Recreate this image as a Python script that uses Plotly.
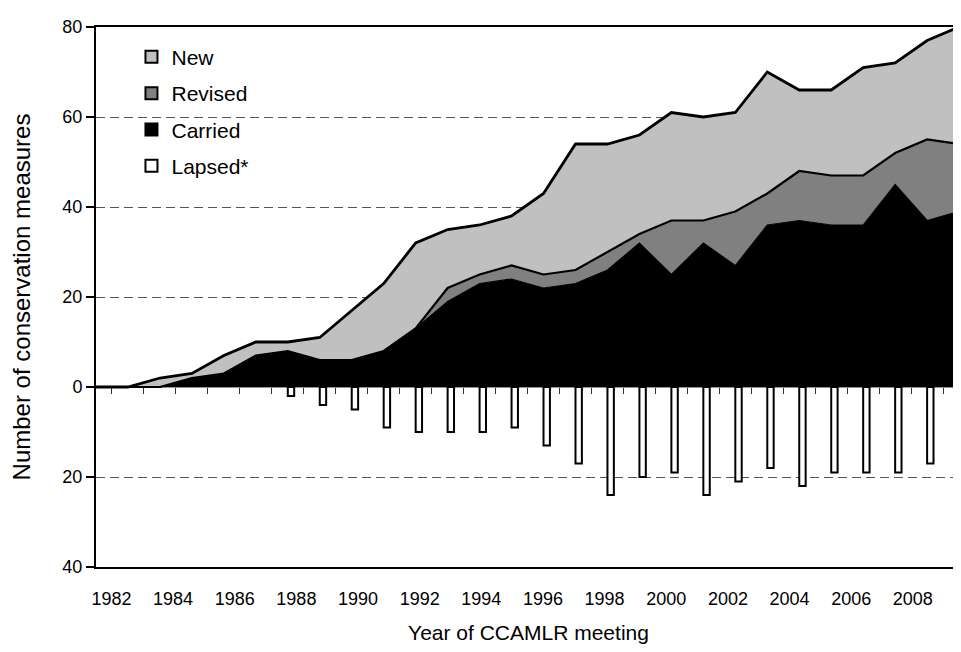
import plotly.graph_objects as go

years = list(range(1982, 2010))
carried = [0, 0, 0, 2, 3, 7, 8, 6, 6, 8, 13, 19, 23, 24, 22, 23, 26, 32, 25, 32, 27, 36, 37, 36, 36, 45, 37, 39]
revised = [0, 0, 0, 0, 0, 0, 0, 0, 0, 0, 0, 3, 2, 3, 3, 3, 4, 2, 12, 5, 12, 7, 11, 11, 11, 7, 18, 15]
new = [0, 0, 2, 1, 4, 3, 2, 5, 11, 15, 19, 13, 11, 11, 18, 28, 24, 22, 24, 23, 22, 27, 18, 19, 24, 20, 22, 26]
lapsed = [0, 0, 0, 0, 0, 0, 2, 4, 5, 9, 10, 10, 10, 9, 13, 17, 24, 20, 19, 24, 21, 18, 22, 19, 19, 19, 17, 23]

y_tickvals = [-40, -20, 0, 20, 40, 60, 80]
y_ticktext = ["40", "20", "0", "20", "40", "60", "80"]
label_years = years[::2]
x_ticktext = [str(y) for y in label_years]

FONT = "Arial, 'Liberation Sans', sans-serif"

total_last = carried[-1] + revised[-1] + new[-1]

# category axis: labels sit at the centres of equal category slots spanning the plot width
n = len(years)
span = years[-1] - years[0]
x_tickvals = [years[0] + (years.index(y) + 0.5) * span / n for y in label_years]

fig = go.Figure()

# Lapsed bars (downwards)
fig.add_trace(go.Bar(
    x=years, y=[-v if v else None for v in lapsed],
    width=0.2, offset=0.0,
    marker=dict(color="white", line=dict(color="black", width=2)),
    name="Lapsed*", legendrank=4, legendgroup="g4", showlegend=True,
))

# Stacked areas
fig.add_trace(go.Scatter(
    x=years, y=carried, stackgroup="s", mode="lines",
    line=dict(color="black", width=1.2), fillcolor="#000000",
    showlegend=False, name="Carried",
))
fig.add_trace(go.Scatter(
    x=years, y=revised, stackgroup="s", mode="lines",
    line=dict(color="black", width=2.2), fillcolor="#808080",
    showlegend=False, name="Revised",
))
fig.add_trace(go.Scatter(
    x=years, y=new, stackgroup="s", mode="lines",
    line=dict(color="black", width=2.8), fillcolor="#C0C0C0",
    showlegend=False, name="New",
))
# right-hand edge of the area outline
fig.add_trace(go.Scatter(
    x=[years[-1], years[-1]], y=[0, total_last], mode="lines",
    line=dict(color="black", width=2.5), showlegend=False, hoverinfo="skip",
))

# Legend-only entries with square swatches
for nm, col, rk in [("New", "#C0C0C0", 1), ("Revised", "#808080", 2), ("Carried", "#000000", 3)]:
    fig.add_trace(go.Bar(
        x=[None], y=[None], name=nm,
        marker=dict(color=col, line=dict(color="black", width=2)),
        legendrank=rk, legendgroup="g%d" % rk, showlegend=True,
    ))

# zero-line axis with tick marks between categories
fig.add_trace(go.Scatter(x=[years[0]], y=[None], xaxis="x2", showlegend=False, hoverinfo="skip"))

mid_ticks = [y + 0.5 for y in years[:-1]]
x_range = [years[0], years[-1] + 0.06]

# the page body adds an 8px margin, so the figure is sized to fit inside it
fig.update_layout(
    width=953, height=636,
    margin=dict(l=88, r=0, t=19, b=77, autoexpand=False),
    paper_bgcolor="white", plot_bgcolor="white",
    font=dict(family=FONT, size=18, color="black"),
    barmode="overlay",
    showlegend=True,
    legend=dict(
        x=0.041, y=0.982, xanchor="left", yanchor="top",
        bgcolor="rgba(0,0,0,0)", borderwidth=0,
        font=dict(family=FONT, size=21, color="black"),
        traceorder="grouped", tracegroupgap=6, itemwidth=30,
    ),
    xaxis=dict(
        range=x_range, automargin=False,
        tickvals=x_tickvals, ticktext=x_ticktext,
        ticks="", showgrid=False, zeroline=False,
        showline=True, linecolor="black", linewidth=2, mirror=True,
        ticklabelstandoff=14,
        title=dict(text="Year of CCAMLR meeting", standoff=19, font=dict(size=21)),
        tickfont=dict(size=18),
    ),
    xaxis2=dict(
        overlaying="x", matches="x", anchor="free", position=1/3,
        range=x_range,
        tickvals=mid_ticks, ticks="outside", ticklen=6, tickcolor="#333333", tickwidth=1,
        showticklabels=False, showline=True, linecolor="#909090", linewidth=1.5,
        showgrid=False, zeroline=False, layer="below traces",
    ),
    yaxis=dict(
        range=[-40, 80], automargin=False,
        tickvals=y_tickvals, ticktext=y_ticktext,
        ticks="outside", ticklen=8, tickcolor="black", tickwidth=1.5,
        showline=True, linecolor="black", linewidth=2, mirror=False,
        showgrid=True, gridcolor="#555555", gridwidth=1, griddash="9px,5px",
        zeroline=False,
        title=dict(text="Number of conservation measures", standoff=26, font=dict(size=24)),
        tickfont=dict(size=18),
    ),
)

fig.write_html("out.html")
